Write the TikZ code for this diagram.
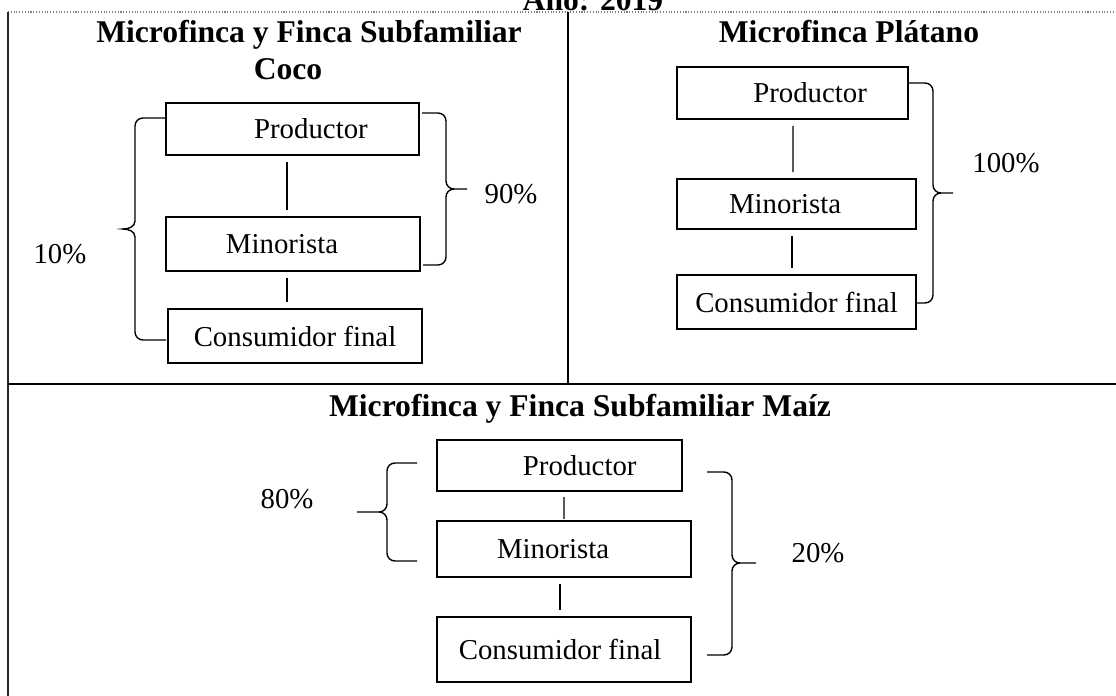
\documentclass[tikz,border=0pt]{standalone}
\usepackage{fontspec}
\setmainfont{Liberation Serif}
\usetikzlibrary{calc}

\begin{document}
\begin{tikzpicture}[x=0.02cm, y=0.02cm,
    caja/.style 2 args={draw, line width=0.9pt, minimum width=#1, minimum height=#2, font=\fontsize{16.4}{18}\selectfont},
    titulo/.style={font=\fontsize{18}{21}\selectfont\bfseries, anchor=base},
    pct/.style={font=\fontsize{16.4}{18}\selectfont, anchor=base},
    enlace/.style={line width=0.6pt, shorten <=3.5pt, shorten >=3.5pt},
    llave/.style={line width=0.8pt}]
            \tikzstyle{every node}+=[inner sep=0pt]
            \useasboundingbox (0,0) rectangle (1116,-696);
            \draw [gray, densely dotted, line width=0.6pt] (8,-12) -- (1116,-12);
            \draw [black!85, line width=1pt] (8,-12) -- (8,-696);
            \draw [line width=0.9pt] (568,-12) -- (568,-384);
            \draw [line width=0.9pt] (8,-384) -- (1116,-384);
            \node [titulo] (anio) at (593,-11) {Año: 2019};
            % coco
            \node [titulo] (tcoco) at (309,-43) {Microfinca y Finca Subfamiliar};
            \node [titulo] (tcoco2) at (288,-80) {Coco};
            \node [caja={5.06cm}{1.04cm}] (cocoP) at (292.5,-129) {\hspace*{21pt}Productor};
            \node [caja={5.08cm}{1.08cm}] (cocoM) at (293,-244) {Minorista\hspace*{12.5pt}};
            \node [caja={5.08cm}{1.08cm}] (cocoC) at (295,-336) {Consumidor final};
            \draw [enlace] ($(cocoP.south)+(-5.5,0)$) -- ($(cocoM.north)+(-6,0)$);
            \draw [enlace] ($(cocoM.south)+(-6,0)$) -- ($(cocoC.north)+(-8,0)$);
            \draw [llave] (166,-118) -- (143,-118) to[out=180,in=90] (135,-126) -- (135,-221) to[out=-90,in=0] (123,-229) to[out=0,in=90] (135,-237) -- (135,-332) to[out=-90,in=180] (143,-340) -- (166,-340);
            \draw [llave] (422,-113) -- (438,-113) to[out=0,in=90] (446,-121) -- (446,-181) to[out=-90,in=180] (454,-189) -- (467,-189) (454,-189) to[out=180,in=90] (446,-197) -- (446,-257) to[out=-90,in=0] (438,-265) -- (423,-265);
            \node [pct] (p10) at (60,-263) {10\%};
            \node [pct] (p90) at (511,-203) {90\%};
            % platano
            \node [titulo] (tplat) at (849,-43) {Microfinca Plátano};
            \node [caja={4.62cm}{1.04cm}] (platP) at (792.5,-93) {\hspace*{20pt}Productor};
            \node [caja={4.78cm}{1.0cm}] (platM) at (796.5,-204) {Minorista\hspace*{13pt}};
            \node [caja={4.78cm}{1.08cm}] (platC) at (796.5,-302) {Consumidor final};
            \draw [enlace] ($(platP.south)+(0.5,0)$) -- ($(platM.north)+(-3.5,0)$);
            \draw [enlace] ($(platM.south)+(-4.5,0)$) -- ($(platC.north)+(-4.5,0)$);
            \draw [llave] (908,-83) -- (925,-83) to[out=0,in=90] (933,-91) -- (933,-185) to[out=-90,in=180] (941,-193) -- (953,-193) (941,-193) to[out=180,in=90] (933,-201) -- (933,-295) to[out=-90,in=0] (925,-303) -- (916,-303);
            \node [pct] (p100) at (1006,-173) {100\%};
            % maiz
            \node [titulo] (tmaiz) at (580,-416) {Microfinca y Finca Subfamiliar Maíz};
            \node [caja={4.9cm}{1.02cm}] (maizP) at (559.5,-465.5) {\hspace*{23pt}Productor};
            \node [caja={5.08cm}{1.12cm}] (maizM) at (564,-549) {Minorista\hspace*{12.5pt}};
            \node [caja={5.08cm}{1.3cm}] (maizC) at (564,-649.5) {Consumidor final\hspace*{4.5pt}};
            \draw [enlace, shorten <=3pt, shorten >=0.8pt] ($(maizP.south)+(4.5,0)$) -- (maizM.north);
            \draw [enlace] ($(maizM.south)+(-4,0)$) -- ($(maizC.north)+(-4,0)$);
            \draw [llave] (417,-463) -- (395,-463) to[out=180,in=90] (387,-471) -- (387,-504) to[out=-90,in=0] (379,-512) -- (357,-512) (379,-512) to[out=0,in=90] (387,-520) -- (387,-553) to[out=-90,in=180] (395,-561) -- (417,-561);
            \draw [llave] (707,-472) -- (724,-472) to[out=0,in=90] (732,-480) -- (732,-555) to[out=-90,in=180] (740,-563) -- (756,-563) (740,-563) to[out=180,in=90] (732,-571) -- (732,-647) to[out=-90,in=0] (724,-655) -- (707,-655);
            \node [pct] (p80) at (287,-508) {80\%};
            \node [pct] (p20) at (818,-562) {20\%};
        \end{tikzpicture}
\end{document}
